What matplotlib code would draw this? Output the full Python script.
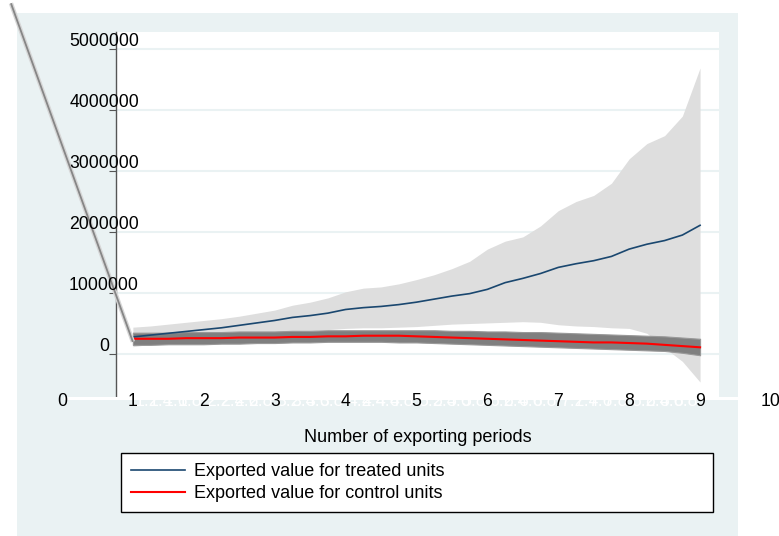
import matplotlib
matplotlib.use("Agg")
import matplotlib.pyplot as plt
import matplotlib.transforms as mtransforms
from matplotlib.patches import Rectangle
import numpy as np

plt.rcParams['font.family'] = ['Liberation Sans', 'DejaVu Sans']

# exporting periods, quarter steps
periods = [1.00, 1.25, 1.50, 1.75, 2.00, 2.25, 2.50, 2.75, 3.00, 3.25, 3.50,
           3.75, 4.00, 4.25, 4.50, 4.75, 5.00, 5.25, 5.50, 5.75, 6.00, 6.25,
           6.50, 6.75, 7.00, 7.25, 7.50, 7.75, 8.00, 8.25, 8.50, 8.75, 9.00]

# treated units (millions)
treated = [0.28, 0.31, 0.34, 0.37, 0.40, 0.43, 0.47, 0.51, 0.55, 0.60, 0.63,
           0.67, 0.73, 0.76, 0.78, 0.81, 0.85, 0.90, 0.95, 0.99, 1.06, 1.17,
           1.24, 1.32, 1.42, 1.48, 1.53, 1.60, 1.72, 1.80, 1.86, 1.95, 2.11]
treated_hi = [0.44, 0.46, 0.49, 0.52, 0.55, 0.58, 0.62, 0.67, 0.72, 0.80, 0.85,
              0.92, 1.02, 1.08, 1.10, 1.15, 1.22, 1.30, 1.40, 1.52, 1.72, 1.85,
              1.92, 2.10, 2.35, 2.50, 2.60, 2.80, 3.20, 3.45, 3.58, 3.90, 4.69]
treated_lo = [0.12, 0.16, 0.18, 0.20, 0.22, 0.24, 0.26, 0.29, 0.32, 0.37, 0.38,
              0.40, 0.42, 0.43, 0.43, 0.44, 0.45, 0.47, 0.49, 0.50, 0.51, 0.52,
              0.53, 0.52, 0.48, 0.46, 0.45, 0.43, 0.42, 0.34, 0.10, -0.12, -0.46]

# control units (millions)
control = [0.25, 0.25, 0.25, 0.26, 0.26, 0.26, 0.27, 0.27, 0.27, 0.28, 0.28,
           0.29, 0.29, 0.30, 0.30, 0.30, 0.29, 0.28, 0.27, 0.26, 0.25, 0.24,
           0.23, 0.22, 0.21, 0.20, 0.19, 0.19, 0.18, 0.17, 0.15, 0.13, 0.11]
control_hi = [0.35, 0.35, 0.35, 0.36, 0.36, 0.36, 0.37, 0.37, 0.37, 0.38, 0.38,
              0.39, 0.39, 0.39, 0.39, 0.39, 0.39, 0.39, 0.38, 0.38, 0.37, 0.37,
              0.36, 0.36, 0.35, 0.34, 0.33, 0.32, 0.31, 0.30, 0.29, 0.27, 0.25]
control_lo = [0.15, 0.15, 0.16, 0.16, 0.16, 0.17, 0.17, 0.18, 0.18, 0.19, 0.19,
              0.20, 0.20, 0.20, 0.20, 0.19, 0.19, 0.18, 0.17, 0.16, 0.15, 0.14,
              0.13, 0.12, 0.11, 0.10, 0.09, 0.08, 0.07, 0.06, 0.05, 0.02, -0.02]

# stray band edge running in from the left
lead_x = [-0.72, 1.0]
lead_y = [5.75, 0.2]

xticks = [0, 1, 2, 3, 4, 5, 6, 7, 8, 9, 10]
yticks = [0, 1000000, 2000000, 3000000, 4000000, 5000000]
minor_x = [round(m + f, 1) for m in range(1, 9) for f in (0.2, 0.4, 0.6, 0.8)]

M = 1e6
bg = '#eaf2f3'

fig = plt.figure(figsize=(7.79, 5.36), dpi=100)
fig.patches.append(Rectangle((17 / 779, 0), 721 / 779, 523 / 536,
                             transform=fig.transFigure, facecolor=bg,
                             edgecolor='none', zorder=-10))
ax = fig.add_axes([116 / 779, 138 / 536, 603 / 779, 366 / 536])
ax.set_facecolor('white')
ax.set_xlim(0.762, 9.267)
ax.set_ylim(-0.721 * M, 5.279 * M)

for s in ['top', 'right', 'bottom']:
    ax.spines[s].set_visible(False)
ax.spines['left'].set_color('#555555')
ax.spines['left'].set_linewidth(1.0)

ax.set_xticks([])
ax.set_yticks(yticks)
ax.tick_params(axis='y', length=5, color='#555555', labelleft=False)
for v in yticks:
    ax.axhline(v, color=bg, lw=1.5, zorder=0)

px = fig.dpi_scale_trans
p = np.array(periods)
ax.fill_between(p, np.array(treated_lo) * M, np.array(treated_hi) * M,
                color='#dedede', lw=0, zorder=1)
ax.fill_between(p, np.array(control_lo) * M, np.array(control_hi) * M,
                facecolor='#7f7f7f', edgecolor='#999999', lw=0.8, zorder=2)
ax.plot(p, np.array(treated) * M, color='#1a476f', lw=1.2, zorder=3,
        label='Exported value for treated units')
ax.plot(p, np.array(control) * M, color='#ff0000', lw=1.5, zorder=4,
        label='Exported value for control units')

ax.plot(lead_x, np.array(lead_y) * M, color='#d6d6d6', lw=3.2, clip_on=False,
        zorder=5, solid_capstyle='butt')
ax.plot(lead_x, np.array(lead_y) * M, color='#868686', lw=1.3, clip_on=False,
        zorder=6, solid_capstyle='butt')

# x labels below the plot region, white strip underneath
xtr = mtransforms.blended_transform_factory(ax.transData, ax.transAxes)
ax.plot([0.04, 9.52], [0, 0], color='white', lw=2.2, transform=xtr,
        clip_on=False, zorder=6)
lab_tr = xtr + mtransforms.ScaledTranslation(0, -0.03, px)
for m in minor_x:
    ax.text(m, 0, str(m), transform=lab_tr, ha='center', va='center',
            fontsize=12.7, color='white', clip_on=False, zorder=7)
for t in xticks:
    ax.text(t, 0, str(t), transform=lab_tr, ha='center', va='center',
            fontsize=12.7, color='black', clip_on=False, zorder=8)

ytr = mtransforms.blended_transform_factory(ax.transAxes, ax.transData)
ylab_tr = ytr + mtransforms.ScaledTranslation(-0.12, 0.08, px)
for v in yticks:
    ax.text(0, v, str(v), transform=ylab_tr, ha='center', va='center',
            fontsize=12.7, color='black', clip_on=False, zorder=8)

ax.text(0.5, 0, 'Number of exporting periods', transform=ax.transAxes
        + mtransforms.ScaledTranslation(0, -0.39, px),
        ha='center', va='center', fontsize=13)

leg_top = 1 - 453 / 536
leg = fig.legend(loc='upper left',
                 bbox_to_anchor=(121 / 779, leg_top - 0.1, 592 / 779, 0.1),
                 mode='expand', ncol=1, fontsize=13, frameon=True, fancybox=False,
                 handlelength=3.0, handletextpad=0.5, borderpad=0.55,
                 labelspacing=0.3, borderaxespad=0, framealpha=1)
leg.get_frame().set_edgecolor('black')
leg.get_frame().set_linewidth(1.0)

fig.savefig('out.png', dpi=100)
